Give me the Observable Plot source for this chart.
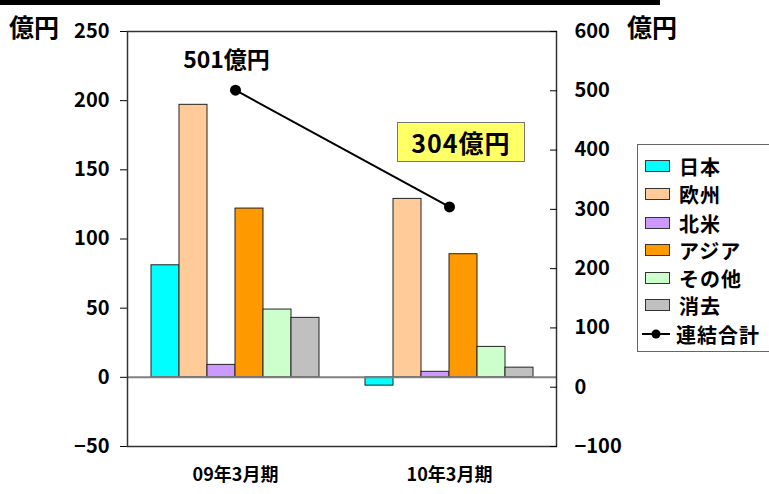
<!DOCTYPE html>
<html><head><meta charset="utf-8">
<script src="https://cdn.jsdelivr.net/npm/d3@7"></script>
<script src="https://cdn.jsdelivr.net/npm/@observablehq/plot@0.6"></script>
<style>
body{margin:0;background:#fff;font-family:"Noto Sans CJK JP",sans-serif;}
#wrap{position:relative;width:769px;height:494px;overflow:hidden;}
#wrap > svg{position:absolute;left:0;top:0;}
.lab{position:absolute;font-weight:bold;color:#000;white-space:nowrap;}
#legend{position:absolute;left:637px;top:144px;width:140px;height:208px;border:1px solid #666;box-sizing:border-box;background:#fff;}
.li{position:absolute;left:7px;height:22px;display:flex;align-items:center;font-weight:bold;font-size:20px;letter-spacing:1px;}
.sw{width:25px;height:12px;border:1px solid #333;margin-right:9px;box-sizing:border-box;}
</style></head>
<body><div id="wrap"></div>
<script>
const periods = ["09年3月期", "10年3月期"];
const regions = ["日本", "欧州", "北米", "アジア", "その他", "消去"];
const colors = ["#00FFFF", "#FFCC99", "#CC99FF", "#FF9900", "#CCFFCC", "#C0C0C0"];
const values09 = [81, 197, 9, 122, 49, 43];
const values10 = [-6, 129, 4, 89, 22, 7];
const totals = [501, 304];
const totalLabels = ["501億円", "304億円"];
const leftTicks = [-50, 0, 50, 100, 150, 200, 250];
const rightTicks = [-100, 0, 100, 200, 300, 400, 500, 600];

const data = [];
regions.forEach((r, i) => {
  data.push({period: periods[0], region: r, value: values09[i]});
  data.push({period: periods[1], region: r, value: values10[i]});
});
const lineData = periods.map((p, i) => ({period: p, total: totals[i], label: totalLabels[i]}));

const W = 769, H = 494;
const M = {marginTop: 31, marginBottom: 48, marginLeft: 127, marginRight: 213};
const font = {fontFamily: "Noto Sans CJK JP, sans-serif"};

const bars = Plot.plot({
  width: W, height: H, ...M,
  style: {...font, fontSize: "20px", fontWeight: "bold", color: "#000", background: "transparent"},
  fx: {domain: periods, padding: 0, label: null},
  x: {domain: regions, paddingInner: 0, paddingOuter: 0.72, axis: null},
  y: {domain: [-50, 250], label: null},
  color: {domain: regions, range: colors},
  marks: [
    Plot.axisY({ticks: leftTicks, tickSize: 8, tickPadding: 11, label: null, fontSize: 20}),
    Plot.axisFx({anchor: "bottom", tickSize: 0, tickPadding: 22, label: null, fontSize: 18, style: {letterSpacing: "1px"}}),
    Plot.barY(data, {fx: "period", x: "region", y: "value", fill: "region", stroke: "#222", strokeWidth: 1}),
    Plot.ruleY([0], {stroke: "#808080", strokeWidth: 2})
  ]
});

const lines = Plot.plot({
  width: W, height: H, ...M,
  style: {...font, fontSize: "20px", fontWeight: "bold", color: "#000", background: "transparent"},
  x: {type: "band", domain: periods, padding: 0, axis: null},
  y: {domain: [-100, 600], label: null},
  marks: [
    Plot.frame({stroke: "#333", strokeWidth: 1.5}),
    Plot.axisY({anchor: "right", ticks: rightTicks, tickSize: -7, tickPadding: 25, label: null, fontSize: 20}),
    Plot.line(lineData, {x: "period", y: "total", stroke: "#000", strokeWidth: 2}),
    Plot.dot(lineData, {x: "period", y: "total", r: 5.5, fill: "#000"}),
    Plot.text(lineData.slice(0, 1), {x: "period", y: "total", text: "label", dx: -9, dy: -30, fontSize: 23, fontWeight: "bold"})
  ]
});

const wrap = document.getElementById("wrap");
wrap.appendChild(bars);
wrap.appendChild(lines);

function addDiv(html, css, cls) {
  const d = document.createElement("div");
  if (cls) d.className = cls;
  d.innerHTML = html;
  Object.assign(d.style, css);
  wrap.appendChild(d);
  return d;
}
// top black bar
addDiv("", {position: "absolute", left: "0px", top: "0px", width: "660px", height: "5px", background: "#000"});
// unit labels
addDiv("億円", {left: "9px", top: "8px", fontSize: "25px"}, "lab");
addDiv("億円", {left: "627px", top: "8px", fontSize: "25px"}, "lab");
// 304 label box
addDiv(totalLabels[1], {left: "397px", top: "122px", width: "128px", height: "40px", background: "#FFFF66", border: "1px solid #777",
  boxSizing: "border-box", fontSize: "25px", letterSpacing: "1px", display: "flex", alignItems: "center", justifyContent: "center"}, "lab");

// legend
const leg = addDiv("", {}, null);
leg.id = "legend";
const rowY = [10, 38, 67, 94, 122, 149, 178];
regions.forEach((r, i) => {
  const li = document.createElement("div");
  li.className = "li";
  li.style.top = rowY[i] + "px";
  li.innerHTML = `<span class="sw" style="background:${colors[i]}"></span>${r}`;
  leg.appendChild(li);
});
const li = document.createElement("div");
li.className = "li";
li.style.top = rowY[6] + "px";
li.innerHTML = `<svg width="28" height="14" style="margin-right:6px;margin-left:-3px"><line x1="0" y1="7" x2="28" y2="7" stroke="#000" stroke-width="2"/><circle cx="14" cy="7" r="4.5" fill="#000"/></svg>連結合計`;
leg.appendChild(li);
</script>
</body></html>
